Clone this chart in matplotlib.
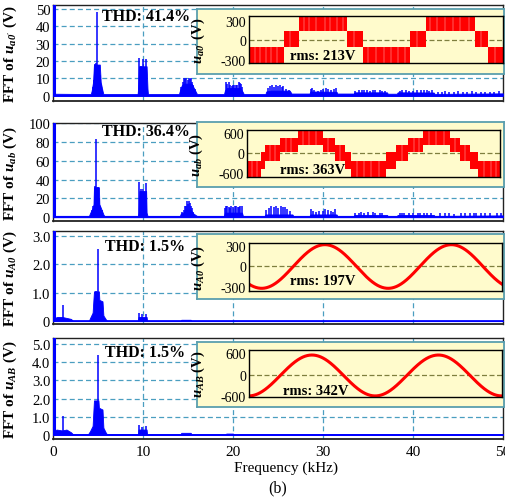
import numpy as np
import matplotlib
matplotlib.use("Agg")
import matplotlib.pyplot as plt

plt.rcParams['font.family'] = ['Liberation Serif', 'DejaVu Serif']
plt.rcParams['mathtext.fontset'] = 'custom'
plt.rcParams['mathtext.rm'] = 'Liberation Serif'
plt.rcParams['mathtext.it'] = 'Liberation Serif:italic'
plt.rcParams['mathtext.bf'] = 'Liberation Serif:bold'
plt.rcParams['mathtext.bfit'] = 'Liberation Serif:italic:bold'

# ---------------- data ----------------
freq_ticks = [0, 10, 20, 30, 40, 50]

# Panel 1: u_a0'
p1_env_f = [0, 4.2, 4.3, 4.45, 4.55, 5.2, 5.3, 5.5, 5.6, 9.4, 9.45, 9.55, 10.4, 10.5, 10.55,
            14.0, 14.1, 14.3, 14.5, 15.4, 15.6, 15.9, 16.0, 19.0, 19.1, 19.3, 20.8, 21.0, 21.2,
            23.6, 23.7, 24.2, 26.3, 26.5, 28.5, 28.6, 31.5, 31.6, 33.4, 33.5, 37.1, 37.2,
            38.2, 38.3, 42.3, 42.4, 50]
p1_env_a = [1.2, 1.0, 3, 8, 18, 18, 8, 3, 1.0, 1.0, 4, 17, 17, 4, 1.0,
            1.0, 3, 6, 7, 7, 5, 2, 1.0, 1.0, 3, 4.5, 4.5, 3, 1.0,
            1.0, 2.5, 3, 3, 1.3, 1.3, 2.5, 2.3, 1.3, 1.3, 2.0, 2.0, 1.2,
            1.2, 2.0, 1.9, 1.1, 1.4]
p1_spk_f = [4.93, 4.7, 4.8, 5.05, 4.4, 4.5, 5.25, 5.35, 5.45,
            9.55, 9.75, 9.95, 10.3,
            14.2, 14.4, 14.55, 14.65, 14.8, 14.95, 15.07, 15.2, 15.3, 15.45, 15.6, 15.75,
            19.2, 19.35, 19.55, 19.7, 19.9, 20.0, 20.15, 20.3, 20.45, 20.67, 20.8, 20.9, 21.0,
            23.9, 24.1, 24.3, 24.55, 24.8, 25.0, 25.2, 25.4, 25.6, 25.9, 26.2,
            28.7, 28.8, 29.0, 29.4, 29.8, 30.0, 30.3, 30.6, 30.9, 31.2, 31.4,
            33.6, 34.0, 34.3, 34.6, 34.9, 35.2, 35.5, 35.8, 36.3, 36.6, 36.9,
            38.5, 38.8, 39.2, 39.6, 40.0, 40.4, 40.9, 41.2, 41.5, 41.8, 42.1,
            42.8, 43.2, 43.5, 44.0, 44.5, 45.0, 45.5, 46.0, 46.5, 47.0, 47.5, 48.0, 48.5, 49.0, 49.5]
p1_spk_a = [48, 18.5, 19, 18, 5, 9, 12, 7, 4,
            21.8, 17, 21, 21,
            5, 8, 10.3, 9.5, 10.3, 9, 10.3, 9.5, 10, 8, 6, 4,
            8.2, 7, 8, 6.5, 5.5, 6, 6, 6, 6.5, 8, 7.5, 6.9, 5,
            4.5, 5.5, 6.3, 5.2, 6.3, 5.5, 6.2, 4.8, 5.5, 4.2, 3.5,
            3.8, 4.4, 3.5, 3, 3.5, 3.8, 4.4, 3.8, 3.4, 4, 4.4,
            3, 3.6, 3.2, 3.2, 3.4, 3, 3.6, 3.3, 3.2, 3, 2.8,
            3, 3.6, 3.2, 3, 2.8, 3.2, 3.3, 3.4, 3.6, 3, 3.2,
            2.2, 2.4, 2.5, 2.3, 2.2, 2.6, 2.4, 2.2, 2.5, 2.4, 2.2, 2.3, 2.4, 2.2, 2.5]
p1_dc = 60
p1_yticks = [0, 10, 20, 30, 40, 50]
p1_ylabels = ['0', '10', '20', '30', '40', '50']

# Panel 2: u_ab
p2_env_f = [0, 4.0, 4.1, 4.4, 4.5, 4.55, 5.1, 5.15, 5.4, 5.6, 5.7, 9.45, 9.5, 9.6, 10.35, 10.4, 10.5,
            14.1, 14.2, 14.5, 14.7, 15.3, 15.6, 15.9, 16.0, 19.0, 19.1, 21.0, 21.1,
            23.5, 23.6, 26.6, 26.7, 28.5, 28.6, 31.5, 31.6, 33.4, 33.5, 37.1, 37.2,
            38.2, 38.3, 42.3, 42.4, 50]
p2_env_a = [1.5, 1.5, 4, 10, 14, 32, 32, 14, 8, 3, 1.5, 1.5, 5, 28, 28, 5, 1.5,
            1.5, 4, 5, 8, 8, 4, 2, 1.5, 1.5, 5, 5, 1.5,
            1.5, 3, 3, 1.5, 1.5, 3, 3, 1.5, 1.5, 2.5, 2.5, 1.5,
            1.5, 2.5, 2.5, 1.5, 2]
p2_spk_f = [4.81, 4.65, 4.95, 4.3, 4.45, 5.1, 5.25, 5.4,
            9.56, 9.8, 10.0, 10.3,
            14.3, 14.5, 14.65, 14.8, 14.9, 15.0, 15.1, 15.2, 15.3, 15.45, 15.6,
            19.1, 19.2, 19.35, 19.5, 19.65, 19.8, 19.95, 20.2, 20.35, 20.5, 20.65, 20.8, 20.95,
            23.7, 24.0, 24.2, 24.5, 24.8, 25.0, 25.3, 25.5, 25.8, 26.0, 26.3,
            28.7, 28.9, 29.2, 29.6, 30.0, 30.2, 30.5, 30.9, 31.1, 31.3,
            33.6, 34.0, 34.2, 34.6, 35.0, 35.5, 35.8, 36.3, 36.6,
            38.5, 38.8, 39.0, 39.5, 40.0, 40.5, 40.8, 41.2, 41.5, 42.0,
            43.0, 43.5, 44.0, 44.5, 45.3, 45.8, 46.3, 46.8, 47.0, 47.5, 48.0, 48.5, 49.3, 49.8]
p2_spk_a = [83, 33, 32, 8, 12, 20, 12, 8,
            37.8, 30, 30, 37,
            6, 8, 12, 12, 17.7, 14, 17.7, 15, 12, 10, 6,
            10, 12, 11.5, 11, 10, 12, 11, 12, 11.5, 11, 10.5, 12, 12,
            8, 10, 11.8, 11, 11.8, 10, 11.5, 11, 11, 9, 7,
            8.3, 7, 6, 7, 6.5, 8.3, 7.5, 7, 6, 8.3,
            4.5, 5, 5.5, 4.8, 5.2, 5.5, 5, 5, 4.5,
            4.8, 5, 5, 4.5, 4.8, 5, 4.6, 5, 5, 4.5,
            4, 4.5, 4.2, 3.8, 4.2, 4.5, 4, 4.3, 4, 4.5, 4.2, 4, 4.5, 4.1]
p2_dc = 120
p2_yticks = [0, 20, 40, 60, 80, 100]
p2_ylabels = ['0', '20', '40', '60', '80', '100']

# Panel 3: u_A0
p3_env_f = [0, 0.5, 1.0, 2.0, 2.2, 4.0, 4.1, 4.4, 4.55, 5.1, 5.15, 5.5, 5.6, 5.9, 6.0,
            9.45, 9.5, 10.4, 10.45, 14.2, 14.25, 15.3, 15.35, 50]
p3_env_a = [0.1, 0.15, 0.15, 0.08, 0.02, 0.02, 0.1, 0.3, 1.05, 1.05, 0.75, 0.7, 0.2, 0.05, 0.02,
            0.02, 0.15, 0.15, 0.02, 0.02, 0.05, 0.05, 0.02, 0.02]
p3_spk_f = [1.08, 4.96, 4.75, 9.55, 9.85, 10.3]
p3_spk_a = [0.56, 2.54, 1.07, 0.28, 0.25, 0.27]
p3_dc = 3.5
p3_yticks = [0, 1.0, 2.0, 3.0]
p3_ylabels = ['0', '1.0', '2.0', '3.0']

# Panel 4: u_AB
p4_env_f = [0, 0.4, 1.0, 1.5, 2.0, 2.2, 3.9, 4.1, 4.4, 4.55, 5.05, 5.1, 5.5, 5.6, 5.9, 6.0,
            9.45, 9.5, 10.4, 10.45, 14.2, 14.25, 15.3, 15.35, 19.2, 19.25, 20.0, 20.05, 50]
p4_env_a = [0.2, 0.3, 0.25, 0.3, 0.15, 0.05, 0.05, 0.2, 0.5, 1.9, 1.9, 1.5, 1.4, 0.4, 0.1, 0.05,
            0.05, 0.3, 0.3, 0.05, 0.05, 0.12, 0.12, 0.05, 0.05, 0.08, 0.08, 0.05, 0.05]
p4_spk_f = [1.08, 4.96, 9.55, 9.85, 10.3]
p4_spk_a = [1.03, 4.4, 0.55, 0.45, 0.5]
p4_dc = 6
p4_yticks = [0, 1.0, 2.0, 3.0, 4.0, 5.0]
p4_ylabels = ['0', '1.0', '2.0', '3.0', '4.0', '5.0']

# inset waveforms (time in ms)
# Panel 1 staircase bands: start, end, low, high
w1_t0 = [0, 5.5, 7.9, 15.4, 17.9, 25.4, 27.8, 35.6, 37.7]
w1_t1 = [5.5, 7.9, 15.4, 17.9, 25.4, 27.8, 35.6, 37.7, 40]
w1_lo = [-360, -95, 145, -95, -360, -95, 145, -95, -360]
w1_hi = [-95, 145, 390, 145, -95, 145, 390, 145, -95]
w1_gaps = [0.9, 1.8, 2.6, 3.5, 4.4, 6.5, 8.6, 9.5, 10.6, 11.9, 12.8, 13.9, 14.8,
           16.5, 18.8, 20.0, 21.3, 22.4, 23.5, 24.6, 26.5, 28.5, 29.6, 30.9, 32.1, 33.3, 34.6, 36.6, 38.8]
w1_ylim = (-350, 381)
w1_ticks = [-300, 0, 300]

# Panel 2 staircase bands
w2_t0 = [0, 2.27, 2.8, 5.2, 8.1, 12.0, 13.9, 15.5, 16.5, 22.0, 23.6, 25.5, 27.9, 32.1, 33.7, 35.2, 36.6]
w2_t1 = [2.27, 2.8, 5.2, 8.1, 12.0, 13.9, 15.5, 16.5, 22.0, 23.6, 25.5, 27.9, 32.1, 33.7, 35.2, 36.6, 40]
w2_lo = [-740, -480, -230, 20, 240, 20, -230, -480, -740, -480, -230, 20, 240, 20, -230, -480, -740]
w2_hi = [-230, 20, 240, 470, 710, 470, 240, 20, -230, 20, 240, 470, 710, 470, 240, 20, -230]
w2_gaps = [0.8, 1.6, 3.6, 4.4, 6.1, 7.0, 8.9, 9.8, 10.9, 12.8, 14.7, 17.4, 18.5, 19.6, 20.8,
           24.5, 26.4, 27.2, 28.8, 29.9, 31.1, 32.9, 34.4, 37.5, 38.5, 39.3]
w2_ylim = (-730, 700)
w2_ticks = [-600, 0, 600]

# Panel 3 / 4 sinusoids: amplitude (V), offset (V), peak time (ms), period (ms)
w3_amp, w3_off, w3_peak, w3_period = 325, 0, 12.0, 20.0
w3_ylim = (-365, 350)
w3_ticks = [-300, 0, 300]
w4_amp, w4_off, w4_peak, w4_period = 570, -20, 9.95, 20.0
w4_ylim = (-620, 690)
w4_ticks = [-600, 0, 600]

thd_texts = ['THD: 41.4%', 'THD: 36.4%', 'THD: 1.5%', 'THD: 1.5%']
rms_texts = ['rms: 213V', 'rms: 363V', 'rms: 197V', 'rms: 342V']
fft_labels = [r"FFT of $\mathbfit{u}_{\mathbfit{a0'}}$ (V)",
              r"FFT of $\mathbfit{u}_{\mathbfit{ab}}$ (V)",
              r"FFT of $\mathbfit{u}_{\mathbfit{A0}}$ (V)",
              r"FFT of $\mathbfit{u}_{\mathbfit{AB}}$ (V)"]
inset_labels = [r"$\mathbfit{u}_{\mathbfit{a0'}}$ (V)",
                r"$\mathbfit{u}_{\mathbfit{ab}}$ (V)",
                r"$\mathbfit{u}_{\mathbfit{A0}}$ (V)",
                r"$\mathbfit{u}_{\mathbfit{AB}}$ (V)"]

# ---------------- styling ----------------
W, H = 505, 502
BLUE = '#0000FF'
RED = '#FF0000'
GRID = '#4A9EC0'
BOXFC = '#FFFBCC'
BOXEC = '#5A9FAE'
ZERO = '#7F7F3F'

fig = plt.figure(figsize=(W / 100, H / 100), dpi=100)


def px_axes(x0, y0, x1, y1, **kw):
    return fig.add_axes([x0 / W, 1 - y1 / H, (x1 - x0) / W, (y1 - y0) / H], **kw)


main_rects = [(53, 6, 503, 102), (53, 124, 503, 222), (53, 232, 503, 325), (53, 339, 503, 440)]
ylims = [(-3, 52.3), (-4, 100.5), (-0.1, 3.18), (-0.22, 5.33)]
box_rects = [(197, 10, 504, 75), (197, 123, 504, 188), (197, 235, 504, 300), (197, 343, 504, 408)]
inner_rects = [(249, 17, 503, 64), (247, 131, 500, 178), (249, 244, 502, 292), (249, 351, 502, 398)]
thd_pos = [(0.109, 0.885), (0.109, 0.918), (0.116, 0.839), (0.116, 0.861)]
rms_pos = [(0.161, 0.15), (0.13, 0.15), (0.161, 0.21), (0.134, 0.13)]

envs = [(p1_env_f, p1_env_a), (p2_env_f, p2_env_a), (p3_env_f, p3_env_a), (p4_env_f, p4_env_a)]
spks = [(p1_spk_f, p1_spk_a), (p2_spk_f, p2_spk_a), (p3_spk_f, p3_spk_a), (p4_spk_f, p4_spk_a)]
dcs = [p1_dc, p2_dc, p3_dc, p4_dc]
yticks = [(p1_yticks, p1_ylabels), (p2_yticks, p2_ylabels), (p3_yticks, p3_ylabels), (p4_yticks, p4_ylabels)]

for i in range(4):
    ax = px_axes(*main_rects[i])
    ef, ea = envs[i]
    ax.fill_between(ef, 0, ea, color=BLUE, lw=0.6, edgecolor=BLUE, zorder=3)
    sf, sa = spks[i]
    ax.vlines(sf, 0, sa, color=BLUE, lw=1.1, zorder=3)
    ax.vlines([0.08], 0, [dcs[i]], color=BLUE, lw=2.2, zorder=3)
    ax.axhline(0, color=BLUE, lw=1.2, zorder=3)
    ax.set_xlim(0, 50)
    ax.set_ylim(*ylims[i])
    yt, yl = yticks[i]
    ax.set_yticks(yt)
    ax.set_yticklabels(yl, fontsize=10.5)
    ax.set_xticks(freq_ticks)
    if i == 3:
        ax.set_xticklabels([str(v) for v in freq_ticks], fontsize=11)
    else:
        ax.set_xticklabels([])
    ax.tick_params(length=0, pad=2)
    ax.tick_params(axis='x', pad=4)
    for v in freq_ticks[1:-1]:
        ax.axvline(v, color=GRID, lw=0.9, ls=(0, (4, 2.5)), zorder=1)
    for v in yt[1:]:
        ax.axhline(v, color=GRID, lw=0.9, ls=(0, (4, 2.5)), zorder=1)
    for s in ax.spines.values():
        s.set_color('#222222')
        s.set_linewidth(1.0)
    ax.spines['bottom'].set_linewidth(1.3)
    ax.set_ylabel(fft_labels[i], fontsize=11, fontweight='bold')
    ax.yaxis.set_label_coords(-0.075, 0.5)
    ax.text(thd_pos[i][0], thd_pos[i][1], thd_texts[i], transform=ax.transAxes,
            fontsize=11.5, fontweight='bold', va='center', ha='left', zorder=5)

    # inset box
    bx = px_axes(*box_rects[i])
    bx.set_facecolor(BOXFC)
    bx.set_xticks([])
    bx.set_yticks([])
    for s in bx.spines.values():
        s.set_color(BOXEC)
        s.set_linewidth(1.3)

    ix = px_axes(*inner_rects[i])
    ix.set_facecolor(BOXFC)
    ix.set_xlim(0, 40)
    if i in (0, 1):
        t0s, t1s, los, his, gaps = (w1_t0, w1_t1, w1_lo, w1_hi, w1_gaps) if i == 0 else \
            (w2_t0, w2_t1, w2_lo, w2_hi, w2_gaps)
        for t0, t1, lo, hi in zip(t0s, t1s, los, his):
            ix.fill_between([t0, t1], lo, hi, color=RED, lw=0)
        for g in gaps:
            for t0, t1, lo, hi in zip(t0s, t1s, los, his):
                if t0 < g < t1:
                    ix.vlines(g, lo, hi, color='white', lw=0.35, alpha=0.75)
        ix.set_ylim(*(w1_ylim if i == 0 else w2_ylim))
        ticks = w1_ticks if i == 0 else w2_ticks
    else:
        amp, off, pk, per = (w3_amp, w3_off, w3_peak, w3_period) if i == 2 else \
            (w4_amp, w4_off, w4_peak, w4_period)
        t = np.linspace(0, 40, 800)
        ix.plot(t, off + amp * np.cos(2 * np.pi * (t - pk) / per), color=RED, lw=2.2)
        ix.set_ylim(*(w3_ylim if i == 2 else w4_ylim))
        ticks = w3_ticks if i == 2 else w4_ticks
    ix.axhline(0, color=ZERO, lw=0.9, ls=(0, (4, 2)), zorder=0.5)
    ix.set_xticks([])
    ix.set_yticks(ticks)
    ix.set_yticklabels([str(v) for v in ticks], fontsize=10)
    ix.tick_params(length=0, pad=2)
    for s in ix.spines.values():
        s.set_color('black')
        s.set_linewidth(1.0)
    ix.set_ylabel(inset_labels[i], fontsize=10.5, fontweight='bold')
    ix.yaxis.set_label_coords(-0.165, 0.5)
    ix.text(rms_pos[i][0], rms_pos[i][1], rms_texts[i], transform=ix.transAxes,
            fontsize=10.5, fontweight='bold', va='center', ha='left', zorder=5)

fig.text(286 / W, 1 - 468 / H, 'Frequency (kHz)', fontsize=11, ha='center', va='center')
fig.text(278 / W, 1 - 488 / H, '(b)', fontsize=11.5, ha='center', va='center')

fig.savefig('out.png', dpi=100)
